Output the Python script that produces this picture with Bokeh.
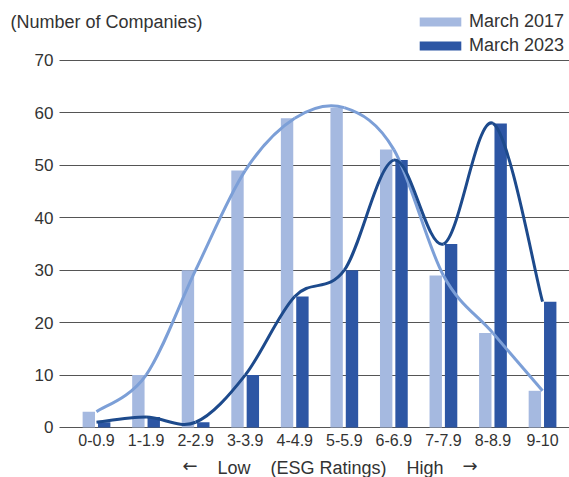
from bokeh.plotting import figure
from bokeh.models import FixedTicker, Range1d, Label, Legend, LegendItem, ColumnDataSource
from bokeh.transform import dodge
from bokeh.embed import file_html
from bokeh.resources import INLINE

categories = ["0-0.9", "1-1.9", "2-2.9", "3-3.9", "4-4.9", "5-5.9", "6-6.9", "7-7.9", "8-8.9", "9-10"]
march_2017 = [3, 10, 30, 49, 59, 61, 53, 29, 18, 7]
march_2023 = [1, 2, 1, 10, 25, 30, 51, 35, 58, 24]
y_ticks = [0, 10, 20, 30, 40, 50, 60, 70]
series_names = ["March 2017", "March 2023"]
y_title = "(Number of Companies)"
x_title = "Low\u00a0\u00a0\u00a0\u00a0(ESG Ratings)\u00a0\u00a0\u00a0\u00a0High"
x_arrow_left = "\u2190"
x_arrow_right = "\u2192"

LIGHT_BAR = "#a5b9e0"
DARK_BAR = "#2d56a4"
LIGHT_LINE = "#7c9fd7"
DARK_LINE = "#1d4a8c"
TEXT = "#333333"
GRID = "#555555"
FONT = "Liberation Sans"
ARROW_FONT = "DejaVu Sans"

xs = list(range(len(categories)))

# plot-area edge (data units) where the value axis sits
X_LEFT = -0.747

p = figure(width=569, height=477, output_backend="svg", toolbar_location=None, title=None,
           x_range=Range1d(-1.937, 9.544), y_range=Range1d(-9.537, 81.44),
           min_border=0, min_border_left=0, min_border_right=0,
           min_border_top=0, min_border_bottom=0)
p.outline_line_color = None
p.background_fill_color = "white"
p.border_fill_color = "white"
p.xgrid.grid_line_color = None
p.ygrid.grid_line_color = None

src = ColumnDataSource(dict(x=xs, a=march_2017, b=march_2023))
r1 = p.vbar(x=dodge("x", -0.155), top="a", width=0.25, source=src,
            fill_color=LIGHT_BAR, line_color=None)
r2 = p.vbar(x=dodge("x", 0.155), top="b", width=0.25, source=src,
            fill_color=DARK_BAR, line_color=None)


def smooth(xv, yv):
    n = len(xv)
    pts = list(zip(xv, yv))
    out = dict(x0=[], y0=[], x1=[], y1=[], cx0=[], cy0=[], cx1=[], cy1=[])
    for i in range(n - 1):
        p0 = pts[max(i - 1, 0)]
        p1 = pts[i]
        p2 = pts[i + 1]
        p3 = pts[min(i + 2, n - 1)]
        out["x0"].append(p1[0]); out["y0"].append(p1[1])
        out["x1"].append(p2[0]); out["y1"].append(p2[1])
        out["cx0"].append(p1[0] + (p2[0] - p0[0]) / 6.0)
        out["cy0"].append(p1[1] + (p2[1] - p0[1]) / 6.0)
        out["cx1"].append(p2[0] - (p3[0] - p1[0]) / 6.0)
        out["cy1"].append(p2[1] - (p3[1] - p1[1]) / 6.0)
    return ColumnDataSource(out)


p.bezier(x0="x0", y0="y0", x1="x1", y1="y1", cx0="cx0", cy0="cy0", cx1="cx1", cy1="cy1",
         source=smooth(xs, march_2017), line_color=LIGHT_LINE, line_width=3)
p.bezier(x0="x0", y0="y0", x1="x1", y1="y1", cx0="cx0", cy0="cy0", cx1="cx1", cy1="cy1",
         source=smooth(xs, march_2023), line_color=DARK_LINE, line_width=3)

# x axis (category labels) fixed at value 0
xa = p.xaxis[0]
xa.fixed_location = 0
xa.ticker = FixedTicker(ticks=xs)
xa.major_label_overrides = {i: c for i, c in zip(xs, categories)}
xa.axis_line_color = None
xa.major_tick_line_color = None
xa.minor_tick_line_color = None
xa.major_tick_out = 0
xa.major_tick_in = 0
xa.major_label_text_font = FONT
xa.major_label_text_color = TEXT
xa.major_label_text_font_size = "16px"
xa.major_label_standoff = 7

# y axis fixed at plot-area left; its inward ticks form the horizontal gridlines
ya = p.yaxis[0]
ya.fixed_location = X_LEFT
ya.ticker = FixedTicker(ticks=y_ticks)
ya.axis_line_color = None
ya.minor_tick_line_color = None
ya.major_tick_out = 0
ya.major_tick_in = 510
ya.major_tick_line_color = GRID
ya.major_tick_line_width = 1
ya.major_label_text_font = FONT
ya.major_label_text_color = TEXT
ya.major_label_text_font_size = "17px"
ya.major_label_standoff = 6
ya.level = "underlay"

# titles
p.add_layout(Label(x=10, y=456, x_units="screen", y_units="screen", text=y_title,
                   text_font=FONT, text_font_size="18px", text_color=TEXT,
                   text_baseline="alphabetic", text_align="left"))
p.add_layout(Label(x=330, y=10, x_units="screen", y_units="screen", text=x_title,
                   text_font=FONT, text_font_size="18px", text_color=TEXT,
                   text_baseline="alphabetic", text_align="center"))
p.add_layout(Label(x=182, y=12, x_units="screen", y_units="screen", text=x_arrow_left,
                   text_font=ARROW_FONT, text_font_size="18px", text_color=TEXT,
                   text_baseline="alphabetic", text_align="left"))
p.add_layout(Label(x=477, y=12, x_units="screen", y_units="screen", text=x_arrow_right,
                   text_font=ARROW_FONT, text_font_size="18px", text_color=TEXT,
                   text_baseline="alphabetic", text_align="right"))

legend = Legend(items=[LegendItem(label=series_names[0], renderers=[r1]),
                       LegendItem(label=series_names[1], renderers=[r2])],
                location=(414, 421), orientation="vertical",
                glyph_width=52, glyph_height=11, label_standoff=3,
                label_height=21, spacing=3, padding=0, margin=0,
                label_text_font=FONT, label_text_font_size="18px", label_text_color=TEXT,
                background_fill_alpha=0, border_line_color=None)
p.add_layout(legend)

open("out.html", "w").write(file_html(p, INLINE))
